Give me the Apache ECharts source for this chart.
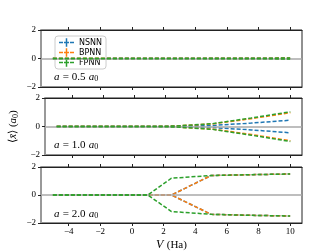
<!DOCTYPE html>
<html><head><meta charset="utf-8">
<script src="https://cdn.jsdelivr.net/npm/echarts@6/dist/echarts.min.js"></script>
<style>html,body{margin:0;padding:0;background:#fff}#c{width:336px;height:252px}</style>
</head><body><div id="c"></div>
<script>
const V = [-5, -2.5, 0, 1, 2.5, 5, 7.5, 10];
const models = ['NSNN', 'BPNN', 'FPNN'];
const colors = ['#1f77b4', '#ff7f0e', '#2ca02c'];
const panelA = ['0.5', '1.0', '2.0'];
const xTicks = [-4, -2, 0, 2, 4, 6, 8, 10];

// a = 0.5 a0
const nsnnUp05 = [0, 0, 0, 0, 0, 0, 0.01, 0.02];
const nsnnLo05 = [0, 0, 0, 0, 0, 0, -0.01, -0.02];
const bpnnUp05 = [0, 0, 0, 0, 0, 0.01, 0.02, 0.03];
const bpnnLo05 = [0, 0, 0, 0, 0, -0.01, -0.02, -0.03];
const fpnnUp05 = [0, 0, 0, 0, 0, 0.01, 0.02, 0.03];
const fpnnLo05 = [0, 0, 0, 0, 0, -0.01, -0.02, -0.03];
// a = 1.0 a0
const nsnnUp10 = [0, 0, 0, 0, 0.02, 0.07, 0.24, 0.44];
const nsnnLo10 = [0, 0, 0, 0, -0.02, -0.07, -0.24, -0.44];
const bpnnUp10 = [0, 0, 0, 0, 0.03, 0.18, 0.55, 0.97];
const bpnnLo10 = [0, 0, 0, 0, -0.03, -0.18, -0.56, -1.0];
const fpnnUp10 = [0, 0, 0, 0, 0.03, 0.2, 0.6, 1.03];
const fpnnLo10 = [0, 0, 0, 0, -0.03, -0.2, -0.61, -1.05];
// a = 2.0 a0
const nsnnUp20 = [0, 0, 0, 0, 0, 1.39, 1.45, 1.5];
const nsnnLo20 = [0, 0, 0, 0, 0, -1.38, -1.45, -1.5];
const bpnnUp20 = [0, 0, 0, 0, 0, 1.39, 1.45, 1.5];
const bpnnLo20 = [0, 0, 0, 0, 0, -1.38, -1.45, -1.5];
const fpnnUp20 = [0, 0, 0, 0, 1.2, 1.39, 1.45, 1.5];
const fpnnLo20 = [0, 0, 0, 0, -1.18, -1.38, -1.45, -1.5];

const panels = [
  [[nsnnUp05, nsnnLo05], [bpnnUp05, bpnnLo05], [fpnnUp05, fpnnLo05]],
  [[nsnnUp10, nsnnLo10], [bpnnUp10, bpnnLo10], [fpnnUp10, fpnnLo10]],
  [[nsnnUp20, nsnnLo20], [bpnnUp20, bpnnLo20], [fpnnUp20, fpnnLo20]]
];

const gridTops = [30, 98, 167];
const gridH = 57;
const serif = 'Liberation Serif';
const fmt = v => (v < 0 ? '\u2212' + Math.abs(v) : String(v));

const grid = [], xAxis = [], yAxis = [], series = [], graphic = [];
gridTops.forEach((t, p) => {
  grid.push({left: 41, right: 34, top: t, height: gridH, show: true, borderColor: '#222', borderWidth: 1});
  const last = p === 2;
  xAxis.push({
    type: 'value', gridIndex: p, min: -5.75, max: 10.75, position: 'bottom',
    axisLine: {show: true, onZero: false, lineStyle: {color: '#222', width: 1}},
    axisTick: {show: true, inside: false, length: 3, customValues: xTicks, lineStyle: {color: '#222'}},
    axisLabel: {show: last, customValues: xTicks, formatter: fmt, fontFamily: serif, fontSize: 9, color: '#000', margin: 4},
    splitLine: {show: false},
    name: last ? '{i|V} {r|(Ha)}' : '', nameLocation: 'middle', nameGap: 16,
    nameTextStyle: {rich: {i: {fontFamily: serif, fontStyle: 'italic', fontSize: 12, color: '#000'}, r: {fontFamily: serif, fontSize: 11, color: '#000'}}}
  });
  xAxis.push({
    type: 'value', gridIndex: p, min: -5.75, max: 10.75, position: 'top',
    axisLine: {show: true, onZero: false, lineStyle: {color: '#222', width: 1}},
    axisTick: {show: true, inside: false, length: 3, customValues: xTicks, lineStyle: {color: '#222'}},
    axisLabel: {show: false}, splitLine: {show: false}
  });
  yAxis.push({
    type: 'value', gridIndex: p, min: -2, max: 2, interval: 2,
    axisLine: {show: true, onZero: false, lineStyle: {color: '#999', width: 2}},
    axisTick: {show: true, inside: false, length: 3, lineStyle: {color: '#222'}},
    axisLabel: {formatter: fmt, fontFamily: serif, fontSize: 9, color: '#000', margin: 5},
    splitLine: {show: false},
    name: p === 1 ? '{r|\u27E8}{i|x\u0304}{r|\u27E9 (}{i|a}{s|0}{r|)}' : '', nameLocation: 'middle', nameGap: 20, nameRotate: 90,
    nameTextStyle: {rich: {i: {fontFamily: serif, fontStyle: 'italic', fontSize: 11, color: '#000'}, r: {fontFamily: serif, fontSize: 11, color: '#000'}, s: {fontFamily: serif, fontSize: 8, color: '#000', padding: [4, 0, 0, 0]}}}
  });
  // zero reference line
  series.push({
    type: 'line', xAxisIndex: 2 * p, yAxisIndex: p, data: [], silent: true, z: 1,
    markLine: {silent: true, symbol: 'none', label: {show: false}, animation: false,
      lineStyle: {color: '#a8a8a8', width: 1.5, type: 'solid'}, data: [{yAxis: 0}]}
  });
  panels[p].forEach((pair, m) => {
    pair.forEach(arr => {
      series.push({
        name: models[m], type: 'line', xAxisIndex: 2 * p, yAxisIndex: p,
        data: V.map((v, i) => [v, arr[i]]), showSymbol: false, symbol: 'none', z: 3 + m,
        lineStyle: {color: colors[m], width: 1.5, type: [4, 2]}, itemStyle: {color: colors[m]}
      });
    });
  });
  graphic.push({
    type: 'text', left: 54, top: t + gridH - 16, z: 100,
    style: {
      text: '{i|a} {r|= ' + panelA[p] + '} {i|a}{s|0}',
      rich: {
        i: {fontFamily: serif, fontStyle: 'italic', fontSize: 11, fill: '#000'},
        r: {fontFamily: serif, fontSize: 11, fill: '#000'},
        s: {fontFamily: serif, fontSize: 8, fill: '#000', padding: [4, 0, 0, 0]}
      }
    }
  });
});

const chart = echarts.init(document.getElementById('c'), null, {renderer: 'canvas'});
chart.setOption({
  animation: false,
  backgroundColor: '#fff',
  grid, xAxis, yAxis, series, graphic,
  legend: {
    data: models, orient: 'vertical', left: 55, top: 36,
    icon: 'path://M0,4h4v1.5h-4z M5,4h5v1.5h-5z M11,4h4v1.5h-4z M6.75,0.5h1.5v8.5h-1.5z',
    itemWidth: 15, itemHeight: 9, itemGap: 1, padding: [2, 4],
    backgroundColor: 'rgba(255,255,255,0.8)', borderColor: '#cccccc', borderWidth: 1, borderRadius: 3,
    textStyle: {fontFamily: 'DejaVu Sans', fontSize: 8, color: '#000', lineHeight: 9}
  }
});
</script></body></html>
